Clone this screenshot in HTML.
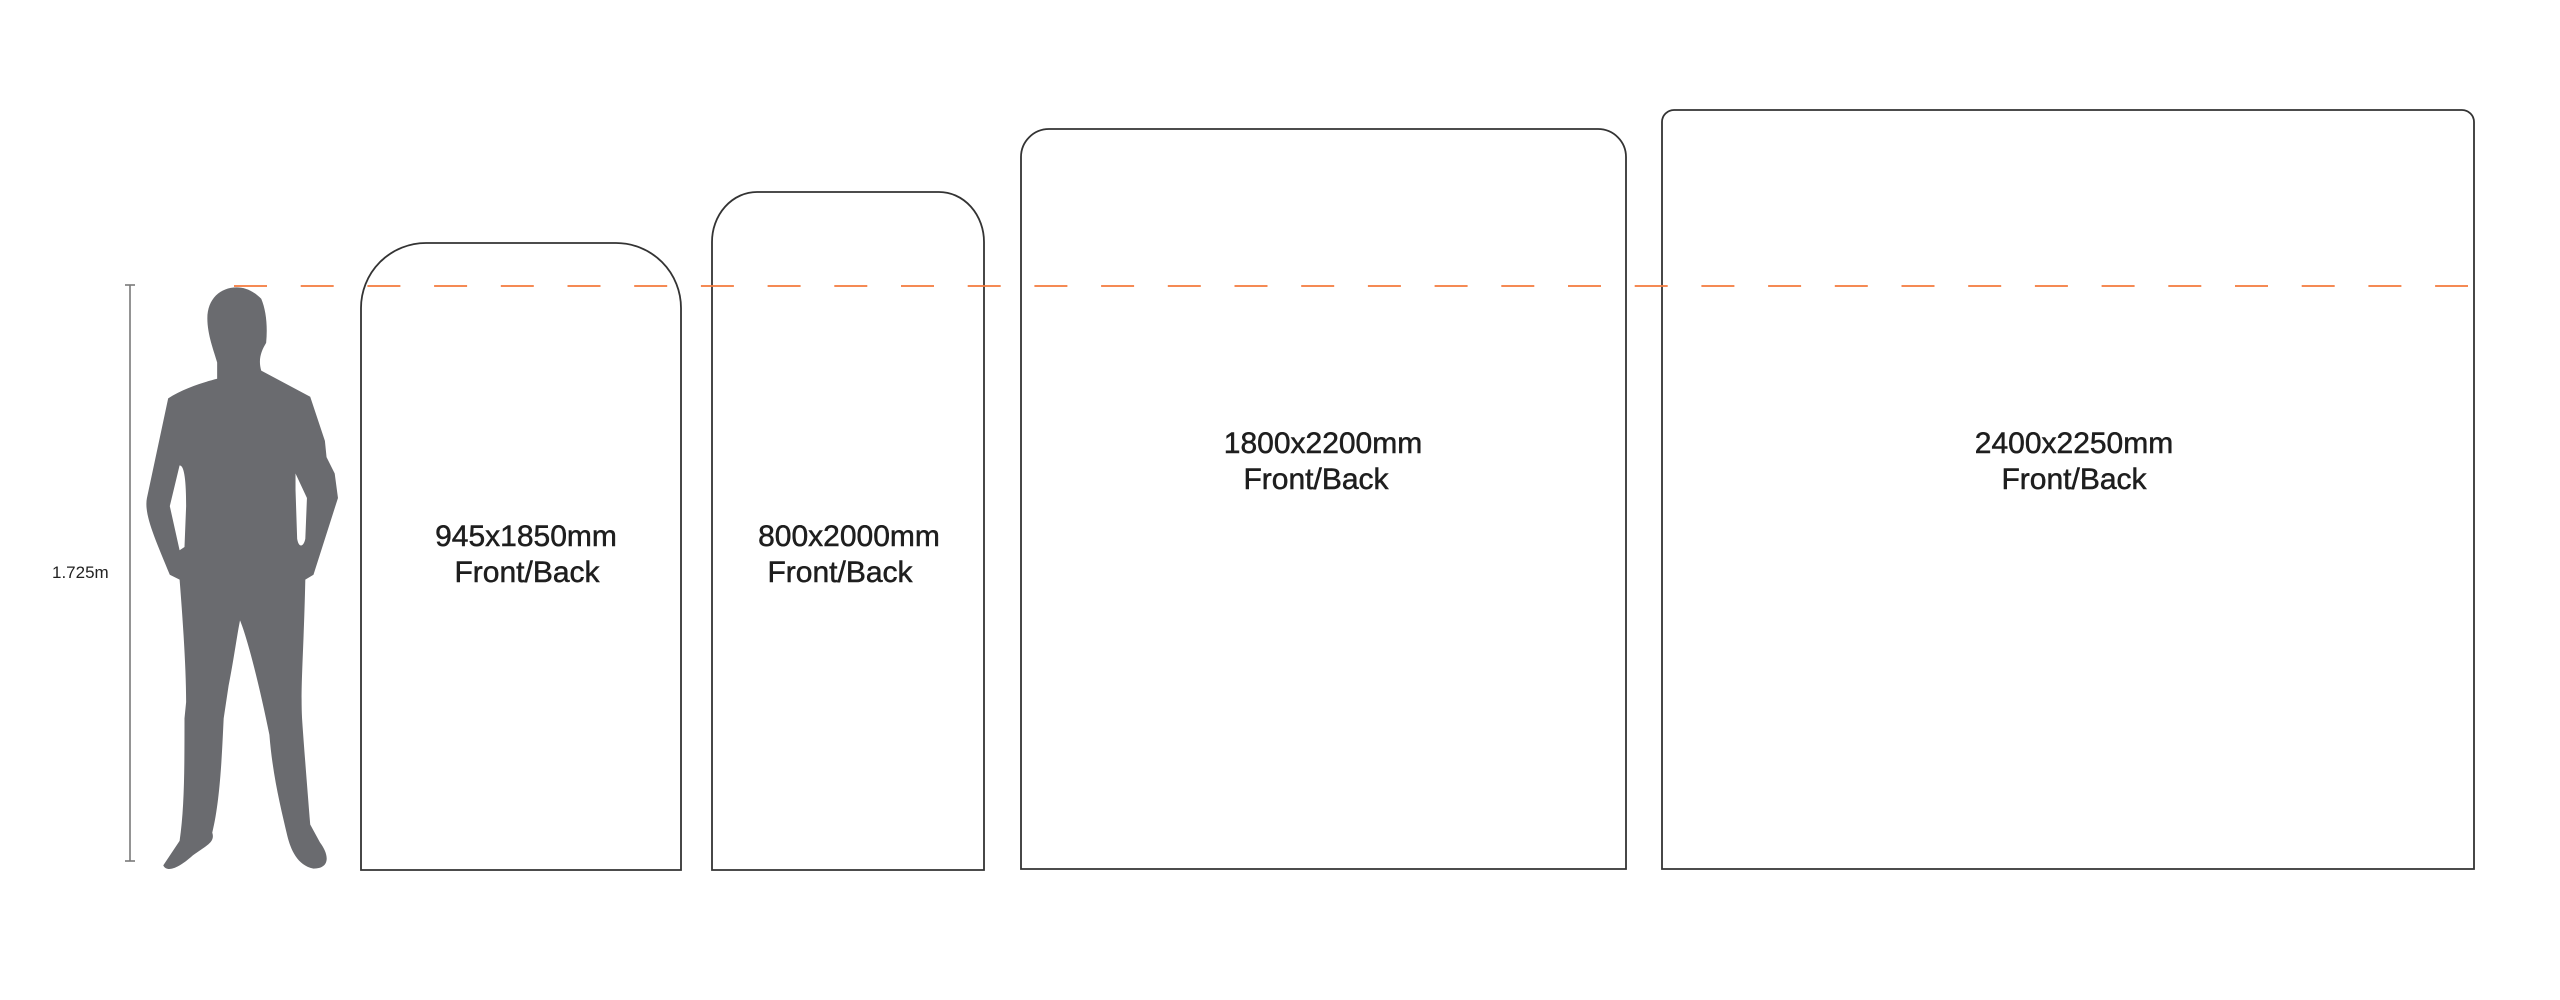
<!DOCTYPE html>
<html><head><meta charset="utf-8"><style>
html,body{margin:0;padding:0;background:#fff;}
svg{display:block;}
</style></head><body>
<svg width="2560" height="1000" viewBox="0 0 2560 1000" xmlns="http://www.w3.org/2000/svg">
<rect width="2560" height="1000" fill="#fff"/>
<g stroke="#7a7a7a" stroke-width="1.6" fill="none">
<line x1="130" y1="285" x2="130" y2="861"/>
<line x1="125" y1="285" x2="135" y2="285"/>
<line x1="125" y1="861" x2="135" y2="861"/>
</g>
<text x="52" y="578" font-family="Liberation Sans, sans-serif" font-size="17" fill="#222">1.725m</text>
<g transform="scale(1.6327)">
<path fill="#6a6b6f" fill-rule="evenodd" d="M145,176 C135,176 127,183 127,195 C127,205 131,215 133,222 L133,232 C125,234 112,238 103,244 L90,305 C88,315 95,330 104,352 L110,355 C112,380 114,410 114,430 L113,440 C113,470 113,495 110,515 L100,530 C102,534 108,533 118,524 C126,518 132,516 130,510 C135,490 136,460 137,440 L140,420 C143,405 145,390 147,380 C152,392 160,425 165,450 C167,475 172,495 176,512 C178,520 182,530 192,532 C202,532 202,524 196,516 L190,505 C188,480 186,455 185,440 C184,420 186,400 187,355 L192,352 L207,305 L205,290 L200,280 L199,270 L190,243 L160,227 C158,220 160,215 163,210 C164,200 163,190 160,183 C155,178 150,176 145,176 Z M110,285 C113,285 114,295 114,310 L113,335 L110,337 L104,310 Z M181,290 L188,305 L187,330 C186,335 183,336 182,330 L181,300 Z"/>
</g>
<g fill="none" stroke="#333" stroke-width="1.8">
<path d="M361,870 L361,308 A65,65 0 0 1 426,243 L616,243 A65,65 0 0 1 681,308 L681,870 Z"/>
<path d="M712,870 L712,242 A45,50 0 0 1 757,192 L939,192 A45,50 0 0 1 984,242 L984,870 Z"/>
<path d="M1021,869 L1021,157 A28,28 0 0 1 1049,129 L1598,129 A28,28 0 0 1 1626,157 L1626,869 Z"/>
<path d="M1662,869 L1662,122 A12,12 0 0 1 1674,110 L2462,110 A12,12 0 0 1 2474,122 L2474,869 Z"/>
</g>
<line x1="234" y1="286" x2="2468" y2="286" stroke="#f47a3c" stroke-width="1.8" stroke-dasharray="33 33.7"/>
<g font-family="Liberation Sans, sans-serif" font-size="30" fill="#1e1e1e" stroke="#1e1e1e" stroke-width="0.5" text-anchor="middle">
<text x="526" y="546">945x1850mm</text>
<text x="527" y="582">Front/Back</text>
<text x="849" y="546">800x2000mm</text>
<text x="840" y="582">Front/Back</text>
<text x="1323" y="453">1800x2200mm</text>
<text x="1316" y="489">Front/Back</text>
<text x="2074" y="453">2400x2250mm</text>
<text x="2074" y="489">Front/Back</text>
</g>
</svg>
</body></html>
